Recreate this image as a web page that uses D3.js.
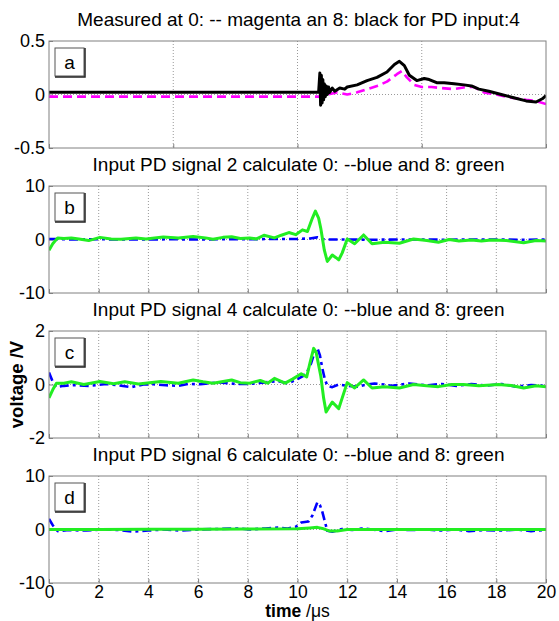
<!DOCTYPE html>
<html>
<head>
<meta charset="utf-8">
<script src="https://cdn.jsdelivr.net/npm/d3@7"></script>
<style>
  body { margin: 0; background: #fff; }
  text { font-family: "Liberation Sans", Arial, sans-serif; }
</style>
</head>
<body>
<svg id="chart" width="559" height="621"></svg>
<script>
// time axis shared by all four panels
const timeTicks = [0, 2, 4, 6, 8, 10, 12, 14, 16, 18, 20];
const timeTicksA = [0, 5, 10, 15, 20];

const titles = [
  'Measured at 0: -- magenta an 8: black for PD input:4',
  'Input PD signal 2 calculate 0: --blue and 8: green',
  'Input PD signal 4 calculate 0: --blue and 8: green',
  'Input PD signal 6 calculate 0: --blue and 8: green'
];
const panelLetters = ['a', 'b', 'c', 'd'];
const yDomains = [[-0.5, 0.5], [-10, 10], [-2, 2], [-10, 10]];
const yTicks = [[-0.5, 0, 0.5], [-10, 0, 10], [-2, 0, 2], [-10, 0, 10]];

// panel a : measured
const measured0 = [[0,-0.02],[2,-0.02],[4,-0.02],[6,-0.02],[8,-0.02],[10,-0.02],[10.9,-0.02],[11.2,0.0],[11.6,0.02],[12.0,0.0],[12.4,0.02],[12.8,0.05],[13.2,0.08],[13.6,0.12],[14.0,0.19],[14.2,0.22],[14.4,0.16],[14.7,0.09],[15.0,0.07],[15.4,0.07],[15.8,0.06],[16.3,0.05],[16.8,0.07],[17.1,0.07],[17.5,0.02],[18.0,0.0],[18.6,-0.03],[19.2,-0.05],[19.6,-0.06],[20,-0.09]];
const measured8 = [[0,0.02],[2,0.02],[4,0.02],[6,0.02],[8,0.02],[10,0.02],[10.85,0.02],[10.9,0.2],[10.93,-0.1],[10.96,0.18],[10.99,-0.08],[11.02,0.14],[11.05,-0.05],[11.08,0.1],[11.12,-0.02],[11.16,0.08],[11.2,0.0],[11.25,0.07],[11.3,0.02],[11.4,0.06],[11.5,0.03],[11.7,0.06],[11.9,0.05],[12.0,0.07],[12.4,0.09],[12.8,0.13],[13.2,0.16],[13.6,0.21],[13.9,0.28],[14.1,0.31],[14.3,0.27],[14.5,0.18],[14.8,0.13],[15.1,0.15],[15.3,0.14],[15.6,0.11],[15.9,0.11],[16.3,0.1],[16.7,0.09],[17.0,0.08],[17.3,0.05],[17.7,0.03],[18.2,0.0],[18.7,-0.03],[19.2,-0.06],[19.6,-0.07],[19.85,-0.04],[20,-0.01]];

// panel b : input 2
const calcB0 = [[0,0.1],[1,0.0],[2,0.05],[3,0.0],[4,0.0],[5,0.05],[6,0.0],[7,0.05],[8,0.05],[9,0.1],[10,0.1],[10.5,0.2],[10.8,0.4],[11.0,0.1],[11.2,0.0],[12,0.0],[13,-0.05],[14,0.0],[15,0.0],[16,-0.05],[17,0.0],[18,0.0],[19,-0.05],[20,0.0]];
const calcB8 = [[0,-2],[0.15,-0.8],[0.35,0.3],[0.6,0.2],[0.9,0.3],[1.2,0.1],[1.6,-0.2],[2.05,0.4],[2.5,0.1],[2.9,0.05],[3.5,0.3],[3.9,0.1],[4.6,0.45],[5.2,0.3],[5.8,0.55],[6.3,0.3],[6.6,0.05],[7.0,0.4],[7.35,0.5],[7.7,0.2],[8.07,0.3],[8.35,0.1],[8.65,0.8],[9.07,0.3],[9.35,0.8],[9.65,1.3],[9.93,0.9],[10.2,1.8],[10.4,1.5],[10.6,4.0],[10.72,5.3],[10.85,4.0],[10.94,2.0],[11.08,-2],[11.2,-4.1],[11.4,-2.9],[11.55,-3.4],[11.66,-3.8],[11.8,-2.5],[12.0,0.1],[12.3,-0.8],[12.66,0.85],[13.0,-0.8],[13.5,-0.5],[14.1,-0.7],[14.67,0.1],[15.2,-0.2],[15.67,-0.5],[16.1,0.0],[16.5,-0.3],[17.0,-0.1],[17.4,-0.3],[17.8,-0.1],[18.4,-0.2],[19.1,-0.6],[19.6,-0.2],[20,-0.3]];

// panel c : input 4
const calcC0 = [[0,0.45],[0.15,0.1],[0.3,-0.1],[0.6,-0.05],[1.0,-0.02],[1.6,-0.05],[2.3,0.02],[2.8,-0.03],[3.3,-0.1],[3.8,0.0],[4.2,0.01],[4.7,-0.03],[5.2,-0.05],[5.6,0.02],[6.1,0.01],[6.5,0.05],[6.9,0.08],[7.5,0.02],[8.07,0.02],[8.6,0.07],[9.2,0.13],[9.6,0.05],[9.93,0.16],[10.2,0.3],[10.37,0.44],[10.55,0.8],[10.72,1.3],[10.8,1.36],[10.9,1.1],[11.0,0.6],[11.1,0.2],[11.2,-0.05],[11.4,-0.1],[11.65,0.0],[12.0,-0.05],[12.4,-0.08],[12.8,0.0],[13.1,0.04],[13.5,0.0],[13.8,-0.05],[14.5,0.04],[15.2,-0.03],[15.8,0.02],[16.4,-0.05],[17.0,0.02],[17.6,-0.04],[18.2,0.02],[18.8,-0.08],[19.4,-0.02],[20,-0.05]];
const calcC8 = [[0,-0.5],[0.15,-0.2],[0.3,0.05],[0.6,0.05],[0.9,0.1],[1.4,0.0],[2.05,0.11],[2.6,0.03],[3.05,0.1],[3.6,0.02],[4.5,0.11],[5.2,0.05],[5.8,0.17],[6.2,0.1],[6.6,0.05],[7.35,0.17],[7.7,0.07],[8.07,0.05],[8.5,0.15],[8.8,0.05],[9.07,0.23],[9.5,0.05],[9.8,0.2],[10.15,0.4],[10.37,0.28],[10.5,0.8],[10.65,1.35],[10.75,1.2],[10.94,0.3],[11.05,-0.5],[11.15,-1.03],[11.3,-0.8],[11.4,-0.66],[11.5,-0.75],[11.66,-0.9],[11.8,-0.5],[12.0,0.07],[12.3,-0.13],[12.66,0.17],[13.0,-0.13],[13.5,-0.08],[14.1,-0.13],[14.67,0.0],[15.2,-0.05],[15.67,-0.08],[16.2,0.0],[16.67,0.0],[17.3,-0.05],[18.1,0.0],[18.6,-0.04],[19.1,-0.13],[19.6,-0.05],[20,-0.08]];

// panel d : input 6
const calcD0 = [[0,2],[0.15,0.8],[0.35,-0.3],[0.8,-0.1],[1.5,-0.2],[2.2,0.0],[2.8,-0.1],[3.4,-0.4],[4.0,-0.2],[4.6,0.0],[5.3,-0.2],[6.0,0.0],[6.8,0.1],[7.6,0.2],[8.07,0.0],[8.7,0.2],[9.2,0.35],[9.6,0.2],[9.93,0.5],[10.15,1.3],[10.44,1.5],[10.6,2.6],[10.8,5.1],[10.9,4.6],[11.0,3.3],[11.1,1.5],[11.2,-0.25],[11.4,-0.4],[11.8,0.1],[12.2,-0.1],[12.6,0.2],[13.0,0.0],[13.5,-0.3],[14.0,0.0],[14.6,-0.1],[15.2,0.0],[15.8,-0.2],[16.3,0.0],[16.9,-0.3],[17.5,-0.1],[18.2,-0.2],[18.8,0.0],[19.4,-0.3],[20,-0.1]];
const calcD8 = [[0,0],[2,0],[4,0.05],[6,0.05],[8,0.1],[10,0.15],[10.5,0.3],[10.8,0.4],[11.0,0.2],[11.3,-0.3],[11.6,-0.3],[12,0.0],[14,0],[16,0],[18,0],[20,0]];

// which series go in which panel (dashed one first, solid on top)
const panelSeries = [
  [{ data: measured0, color: '#ff00ff', dash: '9,5' }, { data: measured8, color: '#000000', dash: null }],
  [{ data: calcB0, color: '#0000ff', dash: '9,4,3,4' }, { data: calcB8, color: '#22ee22', dash: null }],
  [{ data: calcC0, color: '#0000ff', dash: '9,4,3,4' }, { data: calcC8, color: '#22ee22', dash: null }],
  [{ data: calcD0, color: '#0000ff', dash: '9,4,3,4' }, { data: calcD8, color: '#22ee22', dash: null }]
];

const svg = d3.select('#chart');
const left = 49, right = 546;
const panelTops = [41, 186, 331, 476];
const panelH = 107;

const x = d3.scaleLinear().domain([0, 20]).range([left, right]);

panelTops.forEach((top, i) => {
  const y = d3.scaleLinear().domain(yDomains[i]).range([top + panelH, top]);
  const g = svg.append('g');
  const xt = i === 0 ? timeTicksA : timeTicks;

  // title
  g.append('text')
    .attr('x', (left + right) / 2 + 1)
    .attr('y', top - 15)
    .attr('text-anchor', 'middle')
    .attr('font-size', 19)
    .text(titles[i]);

  // grid
  g.selectAll('.vgrid').data(xt.slice(1, -1)).enter().append('line')
    .attr('x1', d => x(d)).attr('x2', d => x(d))
    .attr('y1', top).attr('y2', top + panelH)
    .attr('stroke', '#999').attr('stroke-width', 1).attr('stroke-dasharray', '1,2');
  g.append('line')
    .attr('x1', left).attr('x2', right)
    .attr('y1', y(0)).attr('y2', y(0))
    .attr('stroke', '#999').attr('stroke-width', 1).attr('stroke-dasharray', '1,2');

  // axes (ticks inside like matlab)
  const xAxis = d3.axisBottom(x).tickValues(xt).tickSize(-4)
    .tickFormat(i === 3 ? (d => String(d)) : '');
  const xg = g.append('g').attr('transform', `translate(0,${top + panelH})`).call(xAxis);
  const yAxis = d3.axisLeft(y).tickValues(yTicks[i]).tickSize(-4).tickPadding(4)
    .tickFormat(d => String(d));
  const yg = g.append('g').attr('transform', `translate(${left},0)`).call(yAxis);
  [xg, yg].forEach(a => {
    a.select('.domain').remove();
    a.selectAll('.tick line').attr('stroke', '#808080');
    a.selectAll('.tick text').attr('font-size', 18).attr('fill', '#000')
      .style('font-family', '"Liberation Sans", Arial, sans-serif');
  });
  xg.selectAll('.tick text').attr('y', 3).attr('dy', '0.71em').attr('font-size', 17.5);

  // series
  const clipId = 'clip' + i;
  svg.append('clipPath').attr('id', clipId).append('rect')
    .attr('x', left).attr('y', top).attr('width', right - left).attr('height', panelH);
  const line = d3.line().x(d => x(d[0])).y(d => y(d[1]));
  panelSeries[i].forEach(s => {
    g.append('path')
      .attr('clip-path', `url(#${clipId})`)
      .attr('d', line(s.data))
      .attr('fill', 'none')
      .attr('stroke', s.color)
      .attr('stroke-width', s.dash ? 2.6 : 3)
      .attr('stroke-linejoin', 'round')
      .attr('stroke-dasharray', s.dash);
  });

  // frame
  g.append('rect')
    .attr('x', left).attr('y', top).attr('width', right - left).attr('height', panelH)
    .attr('fill', 'none').attr('stroke', '#808080').attr('stroke-width', 1);

  // panel letter box
  g.append('rect')
    .attr('x', 55).attr('y', top + 7).attr('width', 29).attr('height', 28)
    .attr('fill', '#fff').attr('stroke', '#555').attr('stroke-width', 1);
  g.append('path')
    .attr('d', `M55,${top + 36}H85V${top + 7}`)
    .attr('fill', 'none').attr('stroke', '#222').attr('stroke-width', 1.5);
  g.append('text')
    .attr('x', 69.5).attr('y', top + 28)
    .attr('text-anchor', 'middle')
    .attr('font-size', 19)
    .text(panelLetters[i]);
});

// axis labels
svg.append('text')
  .attr('transform', `translate(23,${panelTops[2] + panelH / 2}) rotate(-90)`)
  .attr('text-anchor', 'middle')
  .attr('font-size', 18.5)
  .attr('font-weight', 'bold')
  .text('voltage /V');

const xl = svg.append('text')
  .attr('x', (left + right) / 2)
  .attr('y', 617)
  .attr('text-anchor', 'middle')
  .attr('font-size', 17.5);
xl.append('tspan').attr('font-weight', 'bold').text('time');
xl.append('tspan').text(' /μs');
</script>
</body>
</html>
